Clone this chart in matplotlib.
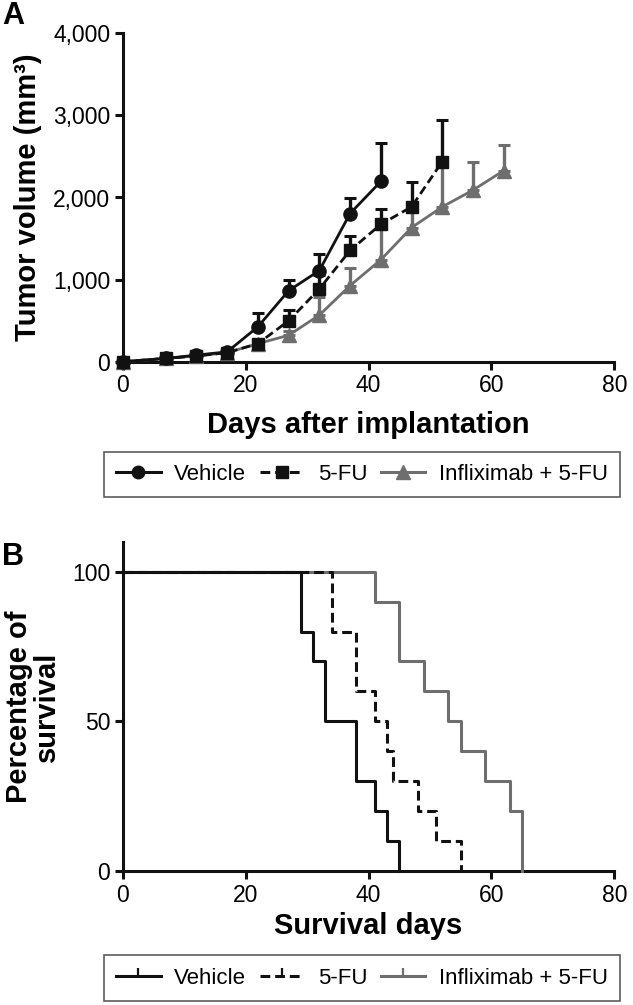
import matplotlib
matplotlib.use("Agg")
import matplotlib.pyplot as plt
from matplotlib.lines import Line2D
from matplotlib.ticker import FuncFormatter

plt.rcParams['font.family'] = ['Liberation Sans', 'DejaVu Sans']

# ---------------- Data: panel A (tumor volume) ----------------
veh_days = [0, 7, 12, 17, 22, 27, 32, 37, 42]
veh_mean = [0, 40, 80, 120, 425, 865, 1110, 1805, 2195]
veh_err = [0, 20, 30, 40, 163, 135, 196, 191, 474]

fu_days = [0, 7, 12, 17, 22, 27, 32, 37, 42, 47, 52]
fu_mean = [0, 40, 70, 110, 220, 498, 886, 1355, 1673, 1886, 2437]
fu_err = [0, 15, 25, 30, 40, 130, 164, 172, 192, 306, 510]

inf_days = [0, 7, 12, 17, 22, 27, 32, 37, 42, 47, 52, 57, 62]
inf_mean = [0, 40, 70, 110, 220, 322, 567, 927, 1241, 1633, 1886, 2090, 2327]
inf_err = [0, 15, 25, 30, 40, 58, 225, 216, 380, 300, 489, 347, 314]

# ---------------- Data: panel B (survival) ----------------
veh_t = [0, 29, 31, 33, 38, 41, 43, 45]
veh_s = [100, 80, 70, 50, 30, 20, 10, 0]
fu_t = [0, 34, 38, 41, 43, 44, 48, 51, 55]
fu_s = [100, 80, 60, 50, 40, 30, 20, 10, 0]
inf_t = [0, 41, 45, 49, 53, 55, 59, 63, 65]
inf_s = [100, 90, 70, 60, 50, 40, 30, 20, 0]

labels = ["Vehicle", "5-FU", "Infliximab + 5-FU"]
x_ticks = [0, 20, 40, 60, 80]
yA_ticks = [0, 1000, 2000, 3000, 4000]
yB_ticks = [0, 50, 100]

GRAY = '#6e6e6e'
BLACK = '#111111'
DASH = (0, (3.2, 1.6))

fig = plt.figure(figsize=(6.33, 10.05), dpi=100)
W, H = 633, 1005

def ax_at(l, t, r, b):
    return fig.add_axes([l / W, 1 - b / H, (r - l) / W, (b - t) / H])

axA = ax_at(122.7, 33.3, 614.3, 361.7)
axB = ax_at(122.7, 541.7, 614.3, 871.0)

def style(ax):
    for s in ['top', 'right']:
        ax.spines[s].set_visible(False)
    for s in ['left', 'bottom']:
        ax.spines[s].set_linewidth(2.2)
        ax.spines[s].set_color(BLACK)
    ax.tick_params(direction='out', length=6, width=2.2, labelsize=16.5,
                   color=BLACK, pad=3)
    ax.set_xlim(0, 80)
    ax.set_xticks(x_ticks)

style(axA)
style(axB)

# ---------- Panel A ----------
lw = 2.0
eb_kw = dict(capsize=4, capthick=2.2, elinewidth=2.4)
axA.errorbar(inf_days, inf_mean, yerr=[[0] * len(inf_err), inf_err],
             color=GRAY, ecolor=GRAY, lw=lw, marker='^', ms=10,
             zorder=3, clip_on=False, **eb_kw)
axA.errorbar(fu_days, fu_mean, yerr=[[0] * len(fu_err), fu_err],
             color=BLACK, ecolor=BLACK, lw=lw, ls=DASH, marker='s', ms=9,
             zorder=4, clip_on=False, **eb_kw)
axA.errorbar(veh_days, veh_mean, yerr=[[0] * len(veh_err), veh_err],
             color=BLACK, ecolor=BLACK, lw=lw, marker='o', ms=9.5,
             zorder=5, clip_on=False, **eb_kw)
axA.set_ylim(0, 4000)
axA.set_yticks(yA_ticks)
axA.yaxis.set_major_formatter(FuncFormatter(lambda v, p: f"{int(v):,}"))
axA.set_xlabel("Days after implantation", fontsize=21, fontweight='bold',
               labelpad=10)
axA.set_ylabel("Tumor volume (mm³)", fontsize=21, fontweight='bold',
               labelpad=8)

# ---------- Panel B ----------
axB.step(veh_t, veh_s, where='post', color=BLACK, lw=2.2, zorder=5,
         clip_on=False)
axB.step(fu_t, fu_s, where='post', color=BLACK, lw=2.2, ls=DASH, zorder=4,
         clip_on=False)
axB.step(inf_t, inf_s, where='post', color=GRAY, lw=2.2, zorder=3,
         clip_on=False)
axB.set_ylim(0, 110)
axB.set_yticks(yB_ticks)
axB.set_xlabel("Survival days", fontsize=21, fontweight='bold', labelpad=4)
axB.set_ylabel("Percentage of\nsurvival", fontsize=21, fontweight='bold',
               labelpad=8, linespacing=1.0)

# Panel letters
fig.text(2 / W, 1 - 16 / H, "A", fontsize=22, fontweight='bold', va='center')
fig.text(2 / W, 1 - 557 / H, "B", fontsize=22, fontweight='bold', va='center')

# Legends
hA = [Line2D([], [], color=BLACK, lw=2.2, marker='o', ms=9),
      Line2D([], [], color=BLACK, lw=2.2, ls=DASH, marker='s', ms=9),
      Line2D([], [], color=GRAY, lw=2.2, marker='^', ms=10)]
hB = [Line2D([], [], color=BLACK, lw=2.2, marker=2, ms=6, mew=1.6),
      Line2D([], [], color=BLACK, lw=2.2, ls=DASH, marker=2, ms=6, mew=1.6),
      Line2D([], [], color=GRAY, lw=2.2, marker=2, ms=6, mew=1.6)]

def add_leg(handles, top, bottom):
    leg = fig.legend(handles, labels, loc='center', ncol=3, mode='expand',
                     bbox_to_anchor=(104 / W, 1 - bottom / H, (620 - 104) / W,
                                     (bottom - top) / H),
                     fontsize=16, frameon=True, fancybox=False,
                     handlelength=2.0, handletextpad=0.6, borderpad=0.55,
                     columnspacing=1.0, borderaxespad=0)
    fr = leg.get_frame()
    fr.set_edgecolor('#333333')
    fr.set_linewidth(1.2)
    return leg

add_leg(hA, 449, 500)
add_leg(hB, 953, 1003)

fig.savefig("out.png", dpi=100)
